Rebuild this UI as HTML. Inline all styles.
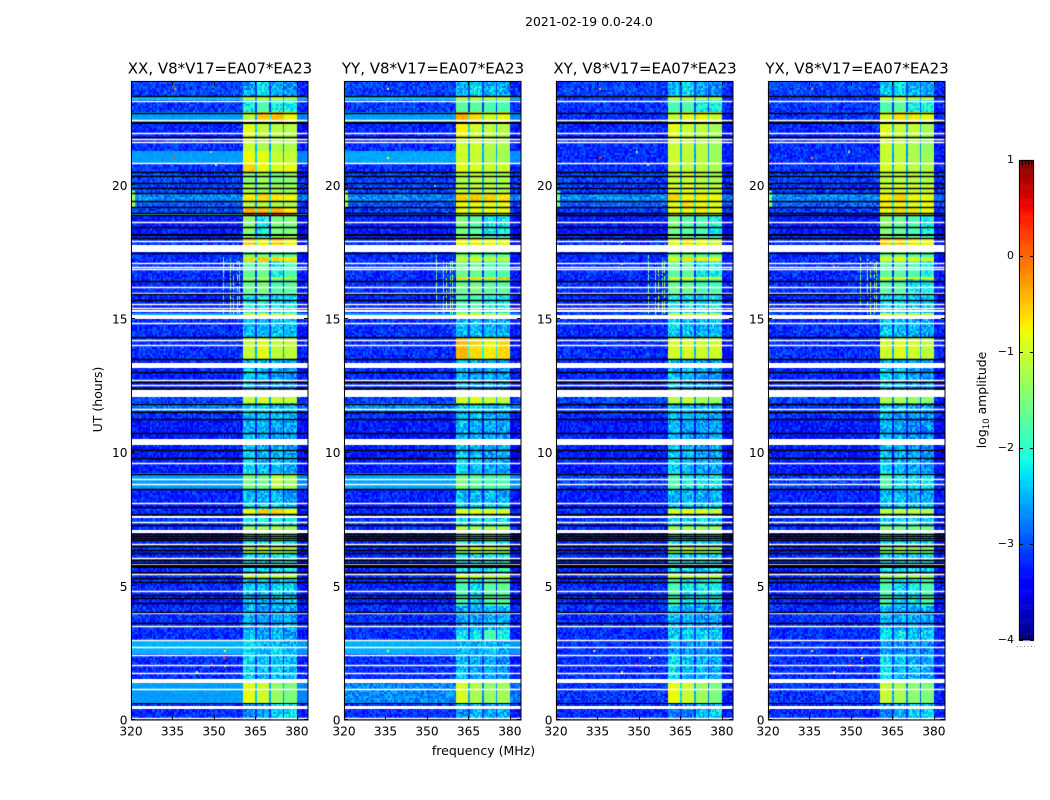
<!DOCTYPE html>
<html lang="en">
<head>
<meta charset="utf-8">
<title>2021-02-19 0.0-24.0</title>
<style>
html,body{margin:0;padding:0;background:#fff;}
#figure{position:relative;width:1050px;height:800px;overflow:hidden;background:#fff;}
#figure canvas{position:absolute;left:0;top:0;}
#figure svg{position:absolute;left:0;top:0;}
text{font-family:"DejaVu Sans","Liberation Sans",sans-serif;fill:#000;}
</style>
</head>
<body>
<div id="figure">
<canvas id="heat" width="1050" height="800"></canvas>
<svg id="overlay" width="1050" height="800" viewBox="0 0 1050 800">
  <text x="589" y="26" text-anchor="middle" font-size="12.4">2021-02-19 0.0-24.0</text>
  <text x="483.5" y="755" text-anchor="middle" font-size="12.5">frequency (MHz)</text>
  <text x="0" y="0" transform="translate(102,399.5) rotate(-90)" text-anchor="middle" font-size="12.5">UT (hours)</text>
  <text x="0" y="0" transform="translate(986,400) rotate(-90)" text-anchor="middle" font-size="12.4">log<tspan font-size="8.6" dy="3">10</tspan><tspan dy="-3"> amplitude</tspan></text>
</svg>
</div>
<script>
// ---- chart data (hours, MHz, log10 amplitude) ----
const polarisations = ['XX', 'YY', 'XY', 'YX'];
const panelTitles = ['XX, V8*V17=EA07*EA23', 'YY, V8*V17=EA07*EA23', 'XY, V8*V17=EA07*EA23', 'YX, V8*V17=EA07*EA23'];
const freqTicks = [320, 335, 350, 365, 380];
const timeTicks = [0, 5, 10, 15, 20];
const colorTicks = [1, 0, -1, -2, -3, -4];
const freqRange = [320, 384];
const timeRange = [0, 23.9];
const colorRange = [-4, 1];

// sub-band extents of the bright 360-380 MHz block
const subbands = [[360.5, 364.8], [365.5, 370.0], [370.5, 375.0], [375.5, 380.0]];

// start hour of each time segment
const segmentStarts = [0, 0.6, 1.4, 2.44, 3.0, 3.4, 4.3, 5.3, 5.45, 6.2, 6.5, 7.0, 7.3, 7.63, 7.88, 8.1, 8.65, 9.21, 10.3, 11.27, 11.52, 11.83, 12.08, 13.18, 13.52, 14.33, 14.98, 15.25, 15.9, 16.52, 16.6, 17.2, 17.3, 17.76, 18.1, 18.89, 18.96, 19.18, 19.42, 19.7, 20.08, 20.49, 20.85, 21.31, 21.73, 22.38, 22.7, 23.2, 23.35];

// per segment: [out-of-band, sub-band 1, 2, 3, 4]
const levelsXX = [
[-3.1,-2.5,-2.3,-2.1,-2.0],[-2.4,-0.85,-1.0,-1.35,-1.5],[-3.1,-2.0,-2.2,-2.1,-2.2],[-2.3,-2.0,-2.2,-2.1,-2.2],[-3.1,-2.2,-2.3,-2.2,-2.3],
[-3.1,-2.3,-2.4,-2.3,-2.3],[-3.15,-2.1,-2.2,-2.1,-2.1],[-3.1,-0.9,-1.0,-1.0,-1.1],[-3.15,-1.95,-2.0,-1.9,-1.9],[-3.15,-1.2,-1.0,-1.1,-1.2],
[-3.15,-1.9,-2.0,-1.8,-1.9],[-3.1,-1.3,-1.3,-1.2,-1.3],[-3.1,-1.9,-1.9,-1.9,-2.0],[-3.1,-0.75,-0.5,-0.55,-0.8],[-3.2,-2.0,-2.0,-1.9,-2.0],
[-3.15,-2.2,-2.2,-2.2,-2.3],[-2.4,-1.5,-1.6,-1.1,-1.3],[-3.2,-2.0,-2.2,-2.2,-2.3],[-3.2,-2.2,-2.2,-2.3,-2.3],[-3.1,-2.1,-2.2,-2.2,-2.3],
[-2.6,-2.0,-2.0,-2.1,-2.1],[-3.0,-1.05,-1.0,-1.05,-1.1],[-3.15,-2.1,-2.3,-2.3,-2.4],[-3.1,-2.2,-2.2,-2.3,-2.3],[-3.1,-1.05,-0.9,-1.1,-1.1],
[-3.1,-2.15,-2.2,-2.15,-2.2],[-2.35,-0.95,-0.9,-1.1,-1.2],[-3.15,-1.9,-1.9,-2.0,-2.0],[-3.1,-1.6,-1.5,-1.8,-1.7],[-3.1,-1.2,-1.2,-1.3,-1.3],
[-3.1,-1.7,-1.6,-1.9,-1.8],[-3.1,-0.6,-0.5,-0.6,-0.7],[-3.1,-1.6,-1.5,-1.7,-1.7],[-3.1,-0.55,-0.75,-0.55,-0.8],[-3.2,-1.4,-1.9,-1.5,-1.5],
[-1.7,0.15,0.15,0.1,-0.1],[-3.0,-0.4,-0.45,-0.4,-0.7],[-2.75,-1.1,-1.1,-1.2,-1.2],[-2.5,-0.7,-0.6,-0.7,-0.8],[-3.0,-1.2,-1.3,-1.3,-1.3],
[-3.0,-1.4,-1.3,-1.5,-1.4],[-3.1,-0.55,-0.8,-0.9,-0.85],[-2.4,-0.8,-0.85,-1.05,-1.05],[-3.1,-1.0,-1.2,-1.2,-1.2],[-3.15,-0.85,-1.1,-1.15,-1.15],
[-2.4,-1.1,-0.5,-0.45,-0.8],[-3.05,-1.9,-1.8,-1.9,-1.9],[-2.2,-1.0,-1.0,-1.0,-1.1],[-3.0,-2.3,-2.0,-2.3,-2.4]];
const levelsYY = [
[-3.1,-2.4,-2.2,-2.3,-2.2],[-2.5,-0.95,-1.2,-1.35,-1.3],[-3.1,-2.2,-2.3,-2.3,-2.4],[-2.3,-2.2,-2.3,-2.2,-2.3],[-3.1,-2.0,-2.0,-1.8,-1.9],
[-3.1,-2.3,-2.3,-2.2,-2.2],[-3.15,-1.8,-2.0,-1.7,-1.7],[-3.1,-0.9,-1.0,-1.0,-1.1],[-3.15,-1.9,-2.0,-1.85,-1.85],[-3.15,-1.2,-0.9,-1.0,-1.2],
[-3.15,-1.8,-2.0,-1.8,-1.9],[-3.1,-1.2,-1.3,-1.2,-1.3],[-3.1,-1.9,-1.9,-1.9,-2.0],[-3.1,-0.9,-0.8,-0.9,-1.0],[-3.2,-2.0,-2.0,-2.0,-2.0],
[-3.15,-2.2,-2.2,-2.2,-2.3],[-2.35,-1.5,-1.7,-1.8,-1.8],[-3.2,-2.1,-2.2,-2.3,-2.3],[-3.2,-2.2,-2.2,-2.3,-2.3],[-3.1,-2.1,-2.2,-2.2,-2.3],
[-2.5,-2.1,-2.0,-2.1,-2.1],[-3.0,-0.95,-0.8,-1.0,-1.1],[-3.15,-2.2,-2.3,-2.3,-2.4],[-3.1,-2.2,-2.2,-2.3,-2.3],[-3.1,-0.4,-0.6,-0.7,-0.6],
[-3.1,-2.2,-2.2,-2.2,-2.3],[-2.35,-0.95,-0.9,-1.1,-1.2],[-3.15,-1.8,-1.8,-1.9,-1.9],[-3.1,-1.6,-1.5,-1.7,-1.7],[-3.1,-0.6,-0.6,-0.6,-0.5],
[-3.1,-1.6,-1.6,-1.8,-1.8],[-3.1,-1.0,-0.9,-1.0,-1.1],[-3.1,-1.5,-1.5,-1.7,-1.7],[-3.1,-0.8,-0.7,-0.8,-0.9],[-3.2,-1.5,-1.7,-1.9,-1.9],
[-2.8,-0.7,-0.7,-0.7,-0.8],[-3.0,-0.85,-0.8,-0.8,-0.85],[-2.75,-0.8,-0.8,-0.85,-0.85],[-2.5,-0.55,-0.5,-0.55,-0.7],[-3.0,-1.1,-1.1,-1.1,-1.2],
[-3.0,-1.15,-1.1,-1.2,-1.2],[-3.1,-0.9,-0.9,-1.0,-1.0],[-2.35,-1.0,-1.05,-1.2,-1.25],[-3.1,-1.0,-1.0,-1.15,-1.2],[-3.15,-0.75,-1.0,-1.1,-1.15],
[-2.4,-0.35,-0.6,-0.95,-0.8],[-3.05,-1.7,-1.7,-1.8,-1.8],[-2.2,-1.0,-1.0,-1.0,-1.1],[-3.0,-2.2,-2.0,-2.2,-2.3]];
const levelsXY = [
[-3.1,-2.6,-2.5,-2.2,-2.1],[-3.05,-0.8,-1.0,-1.3,-1.5],[-3.1,-2.0,-2.2,-2.2,-2.3],[-3.1,-2.4,-2.4,-2.4,-2.5],[-3.1,-2.1,-2.1,-2.0,-2.1],
[-3.1,-2.2,-2.3,-2.3,-2.3],[-3.15,-1.8,-2.0,-1.9,-1.9],[-3.1,-1.0,-1.0,-1.0,-1.1],[-3.15,-1.9,-2.0,-2.0,-2.0],[-3.15,-1.3,-1.0,-1.2,-1.3],
[-3.15,-1.9,-2.0,-1.9,-2.0],[-3.1,-1.3,-1.3,-1.3,-1.3],[-3.1,-2.0,-2.0,-2.0,-2.1],[-3.1,-0.9,-0.85,-0.9,-1.0],[-3.2,-2.1,-2.1,-2.1,-2.1],
[-3.15,-2.2,-2.2,-2.3,-2.3],[-3.05,-1.8,-1.9,-2.0,-1.9],[-3.2,-2.1,-2.2,-2.3,-2.3],[-3.2,-2.2,-2.3,-2.3,-2.3],[-3.1,-2.1,-2.2,-2.3,-2.3],
[-3.1,-2.1,-2.1,-2.2,-2.2],[-3.0,-1.1,-1.0,-1.2,-1.3],[-3.15,-2.1,-2.2,-2.3,-2.4],[-3.1,-2.2,-2.3,-2.3,-2.4],[-3.1,-0.95,-0.95,-1.0,-1.0],
[-3.1,-2.1,-2.2,-2.2,-2.2],[-3.0,-0.95,-0.95,-1.05,-1.1],[-3.15,-1.9,-1.9,-2.0,-2.0],[-3.1,-1.6,-1.6,-1.8,-1.8],[-3.1,-0.9,-0.8,-0.8,-0.9],
[-3.1,-1.7,-1.7,-1.9,-1.9],[-3.1,-0.9,-0.6,-0.7,-0.8],[-3.1,-1.5,-1.5,-1.7,-1.7],[-3.1,-0.9,-0.6,-0.8,-1.0],[-3.2,-1.5,-1.7,-1.8,-1.9],
[-3.05,-0.4,-0.6,-0.5,-0.8],[-3.0,-0.8,-0.8,-0.7,-0.85],[-2.85,-0.85,-0.6,-0.8,-0.9],[-2.5,-0.6,-0.75,-0.75,-0.8],[-3.05,-0.9,-0.9,-1.0,-1.1],
[-3.0,-1.1,-1.0,-1.1,-1.2],[-3.1,-1.0,-1.1,-1.1,-1.2],[-3.1,-1.0,-1.1,-1.15,-1.3],[-3.1,-1.05,-1.1,-1.15,-1.3],[-3.15,-0.85,-1.05,-1.1,-1.25],
[-3.1,-1.1,-0.85,-0.75,-1.0],[-3.05,-1.8,-1.8,-1.9,-1.9],[-3.0,-1.05,-1.05,-1.1,-1.15],[-3.0,-2.2,-2.0,-2.3,-2.4]];
const levelsYX = [
[-3.1,-2.5,-2.3,-2.1,-2.1],[-3.05,-1.05,-1.2,-1.4,-1.5],[-3.1,-2.0,-2.2,-2.2,-2.3],[-3.1,-2.4,-2.4,-2.4,-2.5],[-3.1,-2.0,-2.0,-2.1,-2.1],
[-3.1,-2.2,-2.3,-2.3,-2.3],[-3.15,-1.8,-2.0,-1.9,-1.8],[-3.1,-1.2,-1.2,-1.2,-1.3],[-3.15,-1.95,-2.0,-2.0,-2.0],[-3.15,-1.4,-1.2,-1.3,-1.4],
[-3.15,-2.0,-2.0,-2.0,-2.0],[-3.1,-1.4,-1.5,-1.5,-1.5],[-3.1,-2.0,-2.0,-2.0,-2.1],[-3.1,-1.1,-1.1,-1.1,-1.2],[-3.2,-2.1,-2.1,-2.1,-2.1],
[-3.15,-2.2,-2.2,-2.3,-2.3],[-3.05,-1.8,-1.9,-2.0,-1.9],[-3.2,-2.1,-2.3,-2.3,-2.4],[-3.2,-2.2,-2.3,-2.4,-2.4],[-3.1,-2.1,-2.3,-2.3,-2.4],
[-3.1,-2.1,-2.2,-2.2,-2.3],[-3.0,-1.2,-1.2,-1.3,-1.4],[-3.15,-2.1,-2.2,-2.3,-2.4],[-3.1,-2.2,-2.3,-2.3,-2.4],[-3.1,-1.0,-0.9,-1.0,-1.1],
[-3.1,-2.1,-2.2,-2.3,-2.3],[-3.0,-1.0,-1.0,-1.1,-1.2],[-3.15,-2.0,-2.0,-2.1,-2.1],[-3.1,-1.7,-1.7,-1.9,-1.9],[-3.1,-0.85,-0.8,-0.8,-0.8],
[-3.1,-1.7,-1.7,-1.8,-1.9],[-3.1,-0.9,-0.8,-0.9,-1.0],[-3.1,-1.5,-1.5,-1.7,-1.8],[-3.1,-0.55,-0.55,-0.7,-0.8],[-3.2,-1.4,-1.6,-1.8,-1.9],
[-3.05,-0.4,-0.5,-0.5,-0.6],[-3.0,-0.8,-0.6,-0.7,-0.8],[-2.85,-0.7,-0.8,-0.9,-0.8],[-2.5,-0.7,-0.55,-0.8,-0.85],[-3.05,-0.95,-0.95,-1.0,-1.1],
[-3.0,-1.1,-1.1,-1.1,-1.2],[-3.1,-0.95,-1.05,-1.1,-1.2],[-3.1,-1.05,-1.1,-1.2,-1.3],[-3.1,-1.0,-1.1,-1.2,-1.35],[-3.15,-0.9,-1.05,-1.1,-1.3],
[-3.05,-0.95,-0.65,-0.65,-0.9],[-3.05,-1.8,-1.7,-1.9,-1.9],[-3.0,-0.95,-1.0,-1.05,-1.1],[-3.0,-2.1,-2.0,-2.2,-2.3]];
const levelTables = [levelsXX, levelsYY, levelsXY, levelsYX];

// time flagged rows: no data (white) and zeroed (black)
const whiteLines = [0.08,1.17,1.75,2.07,2.44,2.72,3.0,3.5,3.99,4.82,5.47,5.85,6.07,6.57,7.39,8.1,8.81,9.03,9.63,11.62,12.52,12.73,14.02,14.23,14.83,15.41,15.55,15.97,16.2,16.86,16.95,17.08,17.92,18.63,20.85,21.61,21.73,21.96,22.44,23.17];
const whiteBands = [[0.43,0.54],[1.40,1.55],[6.99,7.09],[7.54,7.63],[10.30,10.50],[12.08,12.33],[13.18,13.35],[14.98,15.14],[15.25,15.33],[17.50,17.76]];
const blackLines = [3.62,4.03,4.36,4.55,4.66,5.16,5.30,5.53,5.89,5.97,6.23,6.34,6.50,6.72,6.80,6.88,6.96,7.28,7.69,7.96,8.65,9.21,9.80,10.11,10.73,11.27,11.52,11.83,12.41,12.64,13.02,13.52,14.33,15.70,15.95,16.42,17.47,18.02,18.44,18.88,18.97,19.18,19.42,19.70,19.89,20.08,20.34,20.49,21.80,22.70,23.35];
const blackBands = [[0.58,0.65],[5.67,5.78],[18.10,18.17],[22.30,22.38]];

// narrow-band interference: [MHz, start hour, end hour, level]
const rfiLines = [[353.2,15.2,17.3,-1.6],[355.8,15.2,17.2,-1.5],[356.8,15.2,17.1,-1.2],[358.3,15.2,17.1,-1.5],[359.1,15.2,17.1,-1.4]];
// low-frequency edge brightening: [start MHz, end MHz, start hour, end hour, level]
const edgePatches = [[320,321.5,19.18,19.8,-1.3]];
// isolated hot samples: [hour, MHz, level]
const hotXX = [[23.63,335.5,-0.1],[21.05,335.5,0.2],[21.3,348.5,-1.3],[20.8,350.5,-1.6],[2.62,353.5,-0.8],[2.35,353.5,0.2],[2.05,353.5,-0.9],[2.15,349,0.2],[1.85,343.5,-0.9]];
const hotYY = [[23.63,335.5,-1.0],[21.05,335.5,-0.8],[2.62,335.5,-0.9],[20.0,352.5,-1.8]];
const hotXY = [[23.63,335.5,-0.3],[21.05,335.5,0.2],[21.3,349,-1.4],[20.8,353,-1.5],[2.62,333.5,-1.0],[2.35,353.5,-0.8],[2.05,353.5,-0.8],[2.15,349,0.4],[1.85,343.5,-0.9],[17.9,343.5,-1.0],[17.1,343.5,-0.6]];
const hotYX = [[23.63,335.5,-0.2],[21.05,335.5,-0.3],[21.3,349,-1.4],[2.62,335.5,-0.6],[2.35,353.5,-0.8],[2.05,353.5,-0.5],[2.15,349,0.5],[1.85,343.5,-0.9],[17.7,343.5,-0.2],[17.0,343.5,0.0]];
const hotTables = [hotXX, hotYY, hotXY, hotYX];

// receiver grain, read as log10 offsets from the noise floor
const grainOffsets = [0.31,-0.42,0.12,-0.18,0.47,-0.07,-0.36,0.22,-0.49,0.05,0.38,-0.27,0.16,-0.12,-0.44,0.29,0.02,-0.33,0.41,-0.22,0.09,0.35,-0.46,-0.03,0.25,-0.15,0.44,-0.38,0.07,-0.29,0.19,0.49,-0.09,-0.41,0.14,-0.24,0.33,-0.01,-0.47,0.27,-0.11];

// ---- layout (pixels) ----
const panelLefts = [131, 344, 556, 768];
const panelWidth = 177;
const panelTop = 81;
const panelBottom = 720;
const cbar = {left: 1019, right: 1034, top: 160, bottom: 640};
const channelWidth = 0.5;
const rowHours = 0.075;

function xScale(panel, mhz) { return panelLefts[panel] + (mhz - freqRange[0]) / (freqRange[1] - freqRange[0]) * panelWidth; }
function yScale(hour) { return panelBottom - (hour - timeRange[0]) / (timeRange[1] - timeRange[0]) * (panelBottom - panelTop); }
function cScale(v) { return cbar.bottom - (v - colorRange[0]) / (colorRange[1] - colorRange[0]) * (cbar.bottom - cbar.top); }

function ramp(points, t) {
  if (t <= points[0][0]) return points[0][1];
  for (let i = 1; i < points.length; i++) {
    if (t <= points[i][0]) {
      const a = points[i - 1], b = points[i];
      return a[1] + (b[1] - a[1]) * (t - a[0]) / (b[0] - a[0]);
    }
  }
  return points[points.length - 1][1];
}
const jetR = [[0.35,0],[0.66,1],[0.89,1],[1,0.5]];
const jetG = [[0.125,0],[0.375,1],[0.64,1],[0.91,0]];
const jetB = [[0,0.5],[0.11,1],[0.34,1],[0.65,0]];
function jet(v) {
  const t = Math.max(0, Math.min(1, (v - colorRange[0]) / (colorRange[1] - colorRange[0])));
  return 'rgb(' + Math.round(255 * ramp(jetR, t)) + ',' + Math.round(255 * ramp(jetG, t)) + ',' + Math.round(255 * ramp(jetB, t)) + ')';
}
function grain(i, j) {
  let k = Math.imul(i + 1, 73856093) ^ Math.imul(j + 1, 19349663);
  k = Math.imul(k ^ (k >>> 13), 83492791);
  return grainOffsets[((k ^ (k >>> 16)) >>> 0) % grainOffsets.length];
}
function segmentIndex(hour) {
  let s = 0;
  while (s + 1 < segmentStarts.length && segmentStarts[s + 1] <= hour) s++;
  return s;
}
function subbandIndex(mhz) {
  for (let b = 0; b < subbands.length; b++) {
    if (mhz >= subbands[b][0] && mhz < subbands[b][1]) return b;
  }
  return -1;
}
function cellLevel(p, i, j, mhz, hour) {
  const row = levelTables[p][segmentIndex(hour)];
  const g = grain(i + p * 131, j + p * 337);
  const cont = row[0] > -2.8 ? row[0] - 0.2 : row[0] - 0.05;
  const inBlock = mhz >= subbands[0][0] && mhz < subbands[3][1];
  if (!inBlock) {
    const tail = mhz >= subbands[3][1] ? 0.12 : 0;
    return cont - tail + g * (cont < -2.65 ? 0.62 : 0.16);
  }
  const b = subbandIndex(mhz);
  if (b < 0) {
    let above = 0;
    for (let k = 0; k < subbands.length - 1; k++) {
      if (mhz >= subbands[k][1] && mhz < subbands[k + 1][0]) above = row[k + 1];
    }
    return Math.max(cont, above - 1.5) + g * 0.2;
  }
  const lvl = row[b + 1];
  return lvl < -1.8 ? lvl - 0.25 + g * 0.75 : lvl + g * 0.2;
}

// ---- heatmaps ----
const canvas = document.getElementById('heat');
const ctx = canvas.getContext('2d');
function fillBand(p, h0, h1, color) {
  const y0 = Math.round(yScale(h1)), y1 = Math.round(yScale(h0));
  ctx.fillStyle = color;
  ctx.fillRect(panelLefts[p], y0, panelWidth, Math.max(1, y1 - y0));
}
function fillLine(p, h, color) {
  ctx.fillStyle = color;
  ctx.fillRect(panelLefts[p], Math.round(yScale(h)) - 0.25, panelWidth, 1.5);
}
polarisations.forEach(function (name, p) {
  const nCols = Math.round((freqRange[1] - freqRange[0]) / channelWidth);
  const nRows = Math.ceil((timeRange[1] - timeRange[0]) / rowHours);
  for (let j = 0; j < nRows; j++) {
    const h0 = timeRange[0] + j * rowHours;
    const hc = h0 + rowHours / 2;
    const ya = Math.round(yScale(Math.min(timeRange[1], h0 + rowHours)));
    const yb = Math.round(yScale(h0));
    for (let i = 0; i < nCols; i++) {
      const f0 = freqRange[0] + i * channelWidth;
      const xa = Math.round(xScale(p, f0));
      const xb = Math.round(xScale(p, f0 + channelWidth));
      ctx.fillStyle = jet(cellLevel(p, i, j, f0 + channelWidth / 2, hc));
      ctx.fillRect(xa, ya, xb - xa, yb - ya);
    }
  }
  edgePatches.forEach(function (e) {
    const xa = xScale(p, e[0]), xb = xScale(p, e[1]);
    ctx.fillStyle = jet(e[4] - (p >= 2 ? 0.3 : 0));
    ctx.fillRect(xa, yScale(e[3]), xb - xa, yScale(e[2]) - yScale(e[3]));
  });
  rfiLines.forEach(function (r) {
    let j2 = 0;
    for (let h = r[1]; h < r[2]; h += rowHours) {
      j2++;
      const g = grain(j2 + p, Math.round(r[0]));
      if (g > -0.35) {
        ctx.fillStyle = jet(r[3]);
        ctx.fillRect(Math.round(xScale(p, r[0])), Math.round(yScale(h + rowHours)), 1, 2);
      }
    }
  });
  hotTables[p].forEach(function (s) {
    ctx.fillStyle = jet(s[2]);
    ctx.fillRect(Math.round(xScale(p, s[1])), Math.round(yScale(s[0])), 2, 2);
  });
  whiteBands.forEach(function (b) { fillBand(p, b[0], b[1], '#fff'); });
  whiteLines.forEach(function (h) { fillLine(p, h, '#fff'); });
  blackBands.forEach(function (b) { fillBand(p, b[0], b[1], '#000'); });
  blackLines.forEach(function (h) { fillLine(p, h, '#000'); });
});

// ---- colour bar ----
const cbarSteps = 256;
for (let k = 0; k < cbarSteps; k++) {
  const v = colorRange[0] + (k + 0.5) / cbarSteps * (colorRange[1] - colorRange[0]);
  const ya = cScale(colorRange[0] + (k + 1) / cbarSteps * (colorRange[1] - colorRange[0]));
  ctx.fillStyle = jet(v);
  ctx.fillRect(cbar.left, ya, cbar.right - cbar.left, (cbar.bottom - cbar.top) / cbarSteps + 0.5);
}

// ---- axes ----
const svg = document.getElementById('overlay');
const NS = 'http://www.w3.org/2000/svg';
function mk(tag, props, parent) {
  const el = document.createElementNS(NS, tag);
  for (const k in props) el.setAttribute(k, props[k]);
  (parent || svg).appendChild(el);
  return el;
}
polarisations.forEach(function (name, p) {
  const g = mk('g', {});
  
  
  const left = panelLefts[p], right = left + panelWidth;

  const frame = mk('rect', {x: left + 0.5, y: panelTop + 0.5, width: panelWidth - 1 + 0.5, height: panelBottom - panelTop - 0.5, fill: 'none', stroke: '#000', 'stroke-width': 1}, g);
  
  

  const title = mk('text', {x: left + panelWidth / 2 + 0.5, y: 73.5, 'text-anchor': 'middle', 'font-size': 15}, g);
  title.textContent = panelTitles[p];
  
  

  freqTicks.forEach(function (f) {
    const x = Math.round(xScale(p, f)) + 0.5;
    const t1 = mk('line', {x1: x, x2: x, y1: panelBottom, y2: panelBottom - 4, stroke: '#000', 'stroke-width': 1}, g);
    
    
    const t2 = mk('line', {x1: x, x2: x, y1: panelTop, y2: panelTop + 4, stroke: '#000', 'stroke-width': 1}, g);
    
    
    const lab = mk('text', {x: xScale(p, f), y: 735.5, 'text-anchor': 'middle', 'font-size': 12.2}, g);
    lab.textContent = String(f);
    
    
  });
  timeTicks.forEach(function (h) {
    const y = Math.round(yScale(h)) - 0.5;
    const t1 = mk('line', {x1: left, x2: left + 4, y1: y, y2: y, stroke: '#000', 'stroke-width': 1}, g);
    
    
    const t2 = mk('line', {x1: right, x2: right - 4, y1: y, y2: y, stroke: '#000', 'stroke-width': 1}, g);
    
    
    const lab = mk('text', {x: left - 3.5, y: yScale(h) + 4.5, 'text-anchor': 'end', 'font-size': 12.2}, g);
    lab.textContent = String(h);
    
    
  });
});

const cg = mk('g', {});


const cframe = mk('rect', {x: cbar.left + 0.5, y: cbar.top + 0.5, width: cbar.right - cbar.left - 1, height: cbar.bottom - cbar.top - 1, fill: 'none', stroke: '#000', 'stroke-width': 1}, cg);


colorTicks.forEach(function (v) {
  const y = Math.round(cScale(v)) + 0.5;
  const t1 = mk('line', {x1: cbar.left, x2: cbar.left + 4, y1: y, y2: y, stroke: '#000', 'stroke-width': 1}, cg);
  
  
  const t2 = mk('line', {x1: cbar.right, x2: cbar.right - 4, y1: y, y2: y, stroke: '#000', 'stroke-width': 1}, cg);
  
  
  const lab = mk('text', {x: cbar.left - 5, y: cScale(v) + 3, 'text-anchor': 'end', 'font-size': 11}, cg);
  lab.textContent = v < 0 ? '\u2212' + Math.abs(v) : String(v);
  
  
});
[cbar.left + 3, cbar.left + 6, cbar.left + 9, cbar.left + 12].forEach(function (x) {
  const m1 = mk('line', {x1: x + 0.5, x2: x + 0.5, y1: cbar.top, y2: cbar.top + 5, stroke: '#000', 'stroke-width': 1}, cg);
  
  
  const m2 = mk('line', {x1: x + 0.5, x2: x + 0.5, y1: cbar.bottom, y2: cbar.bottom - 5, stroke: '#000', 'stroke-width': 1}, cg);
  
  
});
const dots = mk('line', {x1: 1017, x2: 1035, y1: 646.5, y2: 646.5, stroke: '#888', 'stroke-width': 1, 'stroke-dasharray': '1 2.5'}, cg);


</script>
</body>
</html>
